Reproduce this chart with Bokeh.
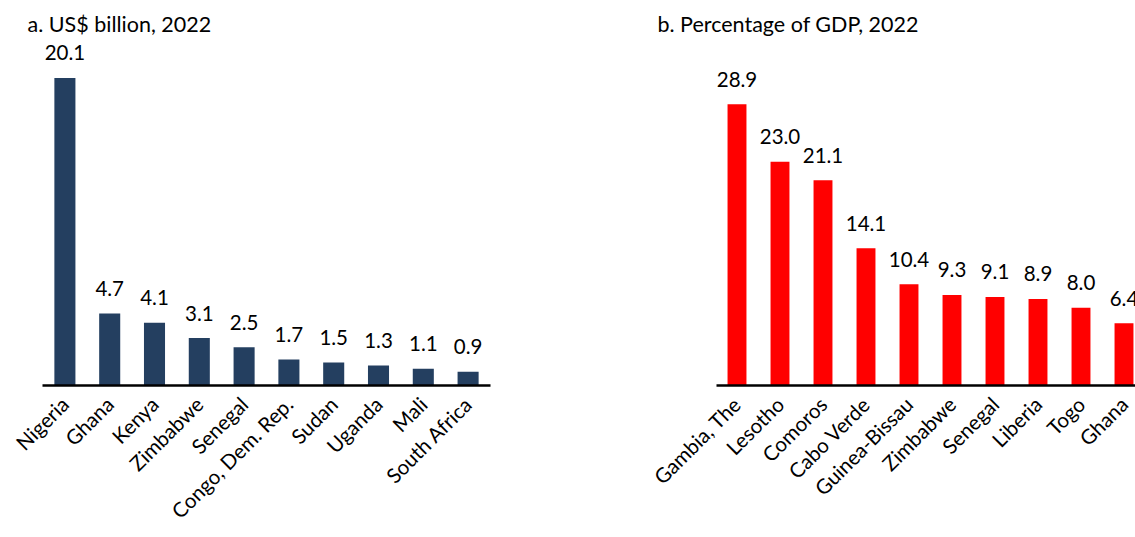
import math
from bokeh.plotting import figure
from bokeh.layouts import row
from bokeh.models import Range1d, FixedTicker, ColumnDataSource
from bokeh.core.properties import value
from bokeh.embed import file_html
from bokeh.resources import INLINE

# ---- data ----
countries_a = ["Nigeria", "Ghana", "Kenya", "Zimbabwe", "Senegal",
               "Congo, Dem. Rep.", "Sudan", "Uganda", "Mali", "South Africa"]
values_a = [20.1, 4.7, 4.1, 3.1, 2.5, 1.7, 1.5, 1.3, 1.1, 0.9]

countries_b = ["Gambia, The", "Lesotho", "Comoros", "Cabo Verde", "Guinea-Bissau",
               "Zimbabwe", "Senegal", "Liberia", "Togo", "Ghana"]
values_b = [28.9, 23.0, 21.1, 14.1, 10.4, 9.3, 9.1, 8.9, 8.0, 6.4]

title_a = "a. US$ billion, 2022"
title_b = "b. Percentage of GDP, 2022"

FONT = "Lato"
H = 537
TOP = 44


def make_panel(cats, vals, title, color, width, bl, br, bb, x_range, y_end, bar_w, title_offset):
    src = ColumnDataSource(dict(
        x=list(range(len(cats))),
        top=vals,
        lab=["%.1f" % v for v in vals],
    ))
    p = figure(width=width, height=H, output_backend="svg", toolbar_location=None,
               x_range=x_range, y_range=Range1d(0, y_end),
               y_axis_location=None,
               min_border_left=bl, min_border_right=br, min_border_bottom=bb,
               min_border_top=TOP)
    p.vbar(x="x", top="top", width=bar_w, source=src, color=color, line_color=None)
    p.text(x="x", y="top", text="lab", source=src, text_align="center",
           text_baseline="middle", y_offset=-25, text_font=value(FONT),
           text_font_size="20.5px", text_color="black")
    p.grid.visible = False
    p.outline_line_color = None
    p.background_fill_color = None
    p.border_fill_color = None
    ax = p.xaxis[0]
    ax.ticker = FixedTicker(ticks=list(range(len(cats))))
    ax.major_label_overrides = {i: c for i, c in enumerate(cats)}
    ax.major_label_orientation = math.pi / 4
    ax.major_tick_line_color = None
    ax.minor_tick_line_color = None
    ax.axis_line_color = "black"
    ax.axis_line_width = 2.5
    ax.major_label_standoff = 9
    ax.major_label_text_font = FONT
    ax.major_label_text_font_size = "20.5px"
    ax.major_label_text_color = "black"
    p.title.text = title
    p.title.align = "left"
    p.title.offset = title_offset
    p.title.standoff = 16
    p.title.text_font = FONT
    p.title.text_font_size = "21.5px"
    p.title.text_font_style = "normal"
    p.title.text_color = "black"
    return p


# panel a: frame 42..490 px (44.8 px per category), axis at y=385
pa = make_panel(countries_a, values_a, title_a, "#243F60", 620, 42, 130, H - 385,
                Range1d(-0.5, 9.5), (385 - TOP) / 15.3, 0.47, -15)
# panel b: frame 716..1135 px, category width 43 px, axis at y=387
xs = -20.5 / 43
pb = make_panel(countries_b, values_b, title_b, "#FF0000", 515, 96, 0, H - 387,
                Range1d(xs, xs + 419 / 43), (387 - TOP) / 9.79, 0.44, -59)

layout = row(pa, pb)
open("out.html", "w").write(file_html(layout, INLINE))
